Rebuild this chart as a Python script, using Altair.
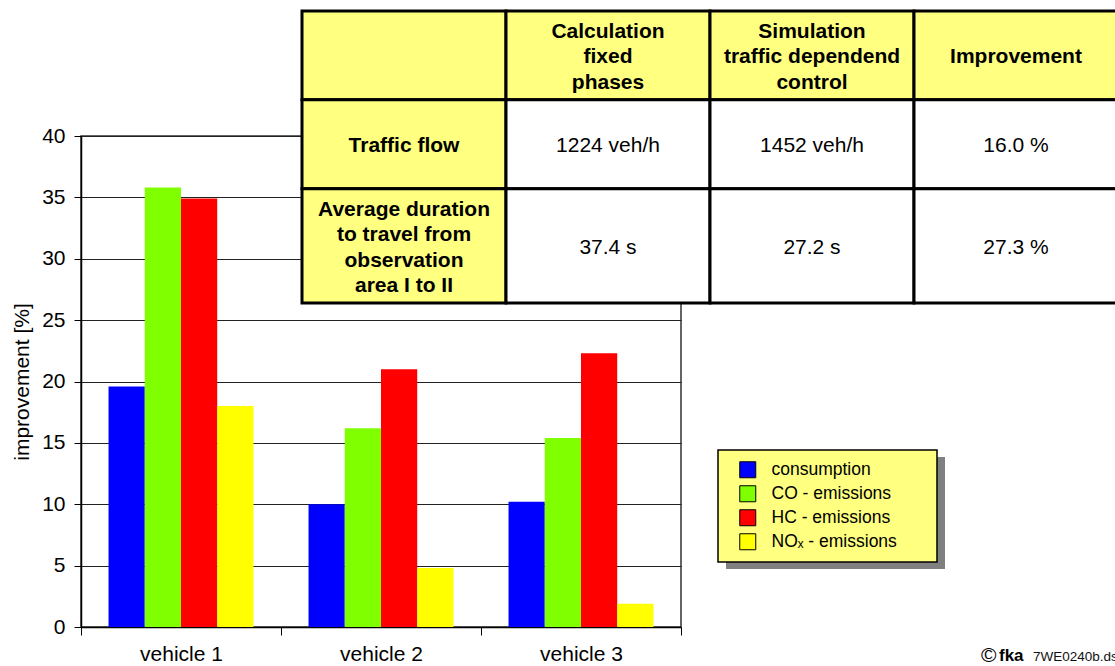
import altair as alt
import pandas as pd

# ---- bar chart: improvement per vehicle ----
vehicles = ["vehicle 1", "vehicle 2", "vehicle 3"]
series = ["consumption", "CO - emissions", "HC - emissions", "NOₓ - emissions"]
series_colors = ["#0000FF", "#80FF00", "#FF0000", "#FFFF00"]
consumption = [19.6, 10.0, 10.2]
co_emissions = [35.8, 16.2, 15.4]
hc_emissions = [34.9, 21.0, 22.3]
nox_emissions = [18.0, 4.8, 1.9]
y_ticks = [0, 5, 10, 15, 20, 25, 30, 35, 40]

# ---- comparison table ----
table_header = ["", "Calculation\nfixed\nphases",
                "Simulation\ntraffic dependend\ncontrol", "Improvement"]
table_rows = ["Traffic flow",
              "Average duration\nto travel from\nobservation\narea I to II"]
fixed_phases = ["1224 veh/h", "37.4 s"]
traffic_dependent = ["1452 veh/h", "27.2 s"]
improvement = ["16.0 %", "27.3 %"]

credit_sign = "©"
credit_logo = "fka"
credit_file = "7WE0240b.dsf"

FONT = "Liberation Sans"
PALE_YELLOW = "#FFFF80"

# long-form table for the grouped bars
bar_df = pd.DataFrame([
    {"vehicle": v, "series": s, "value": val}
    for s, vals in zip(series, [consumption, co_emissions, hc_emissions, nox_emissions])
    for v, val in zip(vehicles, vals)
])

# table cells; row heights are measured in text lines
row_heights = [3.5, 3.5, 4.5]
LINE_PX = 292 / sum(row_heights)
grid = [table_header] + [
    [lab, a, b, c]
    for lab, a, b, c in zip(table_rows, fixed_phases, traffic_dependent, improvement)
]
cells = []
top = 0.0
for r, (row, h) in enumerate(zip(grid, row_heights)):
    for c, label in enumerate(row):
        n_lines = label.count("\n") + 1
        cells.append({
            "row": r, "col": c,
            "x0": c, "x1": c + 1, "xc": c + 0.5,
            "y0": top, "y1": top + h,
            # vertical position of the first text line so the block is centred
            "yt": top + h / 2 - (n_lines - 1) / 2,
            "label": label, "head": (r == 0 or c == 0),
        })
    top += h
table_df = pd.DataFrame(cells)

# table placement (relative to the plot area origin)
tx = alt.Scale(domain=[0, 4], range=[221, 1037], nice=False, zero=False)
ty = alt.Scale(domain=[0, sum(row_heights)], range=[-125, 167], nice=False, zero=False)

bars = alt.Chart(bar_df).mark_bar().encode(
    x=alt.X("vehicle:N", sort=vehicles,
            scale=alt.Scale(paddingInner=0, paddingOuter=0),
            axis=alt.Axis(title=None, labelAngle=0, tickBand="extent", tickSize=8,
                          labelPadding=8, labelFontSize=21, grid=False)),
    xOffset=alt.XOffset("series:N", sort=series,
                        scale=alt.Scale(paddingInner=0, paddingOuter=0.76)),
    y=alt.Y("value:Q", scale=alt.Scale(domain=[0, 40], nice=False),
            axis=alt.Axis(title="improvement [%]", values=y_ticks, grid=True,
                          tickSize=7, labelPadding=9, labelFontSize=21,
                          titleFontSize=21, titleFontWeight="normal", titlePadding=9)),
    color=alt.Color("series:N", sort=series,
                    scale=alt.Scale(domain=series, range=series_colors),
                    legend=alt.Legend(title=None, orient="none", legendX=658, legendY=325,
                                      symbolType="square", symbolSize=256,
                                      symbolStrokeColor="black", symbolStrokeWidth=1,
                                      symbolOpacity=1, labelFontSize=17.5, labelOffset=15,
                                      rowPadding=3, padding=0, labelColor="black",
                                      labelFont=FONT)),
)

deco = pd.DataFrame({"k": [0]})
legend_shadow = alt.Chart(deco).mark_rect(fill="#808080").encode(
    x=alt.value(645), x2=alt.value(864), y=alt.value(321), y2=alt.value(433))
legend_box = alt.Chart(deco).mark_rect(fill=PALE_YELLOW, stroke="black", strokeWidth=1.5).encode(
    x=alt.value(637), x2=alt.value(856), y=alt.value(314), y2=alt.value(426))

cell_rects = alt.Chart(table_df).mark_rect(stroke="black", strokeWidth=3).encode(
    x=alt.X("x0:Q", scale=tx, axis=None), x2="x1:Q",
    y=alt.Y("y0:Q", scale=ty, axis=None), y2="y1:Q",
    fill=alt.condition("datum.head", alt.value(PALE_YELLOW), alt.value("white")),
)

head_text = alt.Chart(table_df).transform_filter("datum.head").mark_text(
    lineBreak="\n", lineHeight=LINE_PX, fontSize=21, fontWeight="bold", font=FONT,
    color="black", baseline="middle", align="center", dy=2,
).encode(
    x=alt.X("xc:Q", scale=tx, axis=None),
    y=alt.Y("yt:Q", scale=ty, axis=None),
    text="label:N",
)
value_text = alt.Chart(table_df).transform_filter("!datum.head").mark_text(
    lineBreak="\n", lineHeight=LINE_PX, fontSize=21, font=FONT,
    color="black", baseline="middle", align="center", dy=2,
).encode(
    x=alt.X("xc:Q", scale=tx, axis=None),
    y=alt.Y("yt:Q", scale=ty, axis=None),
    text="label:N",
)

credit_a = alt.Chart(deco).mark_text(
    text=credit_sign, fontSize=21, font=FONT, color="black",
    align="left", baseline="alphabetic",
).encode(x=alt.value(900), y=alt.value(526))
credit_b = alt.Chart(deco).mark_text(
    text=credit_logo, fontSize=17, fontWeight="bold", font=FONT, color="black",
    align="left", baseline="alphabetic",
).encode(x=alt.value(918), y=alt.value(525))
credit_c = alt.Chart(deco).mark_text(
    text=credit_file, fontSize=13.5, font=FONT, color="#111",
    align="left", baseline="alphabetic",
).encode(x=alt.value(952), y=alt.value(525))

chart = alt.layer(
    bars, legend_shadow, legend_box, cell_rects, head_text, value_text,
    credit_a, credit_b, credit_c
).resolve_scale(
    x="independent", y="independent"
).properties(
    width=600, height=491,
    padding={"left": 81, "top": 136, "right": 434, "bottom": 39},
    autosize=alt.AutoSizeParams(type="none"),
).configure(
    font=FONT, background="white",
).configure_view(
    stroke="#333", strokeWidth=1.5,
).configure_axis(
    domainColor="black", domainWidth=1.5, tickColor="black", tickWidth=1,
    gridColor="#222", gridOpacity=1, gridWidth=1,
    labelColor="black", titleColor="black", labelFont=FONT, titleFont=FONT,
)

chart.save("out.html", embed_options={"renderer": "svg", "actions": False})
